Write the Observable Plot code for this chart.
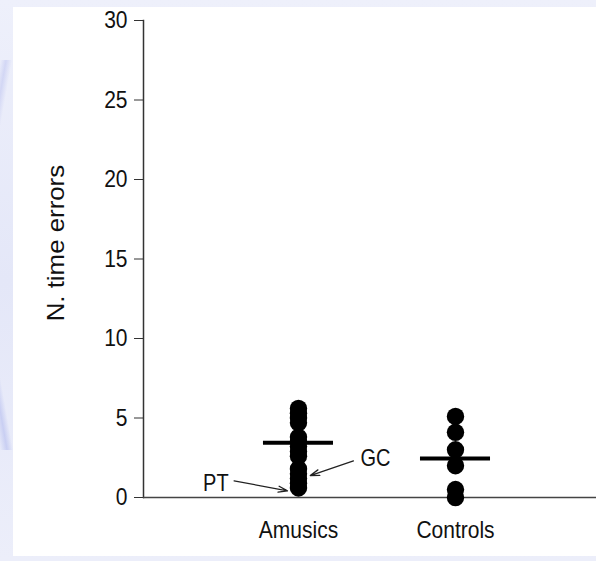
<!DOCTYPE html>
<html>
<head>
<meta charset="utf-8">
<script src="https://cdn.jsdelivr.net/npm/d3@7"></script>
<script src="https://cdn.jsdelivr.net/npm/@observablehq/plot@0.6"></script>
<style>
  html, body { margin: 0; padding: 0; }
  body {
    width: 596px; height: 561px; position: relative; overflow: hidden;
    background:
      linear-gradient(100deg, rgba(255,255,255,0) 0px, rgba(190,196,240,0.55) 6px, rgba(255,255,255,0) 12px) 0 60px / 14px 120px no-repeat,
      linear-gradient(80deg, rgba(255,255,255,0) 0px, rgba(180,188,238,0.6) 7px, rgba(255,255,255,0) 13px) 0 250px / 14px 200px no-repeat,
      linear-gradient(180deg, #eef0fb 0%, #e4e7f8 50%, #eceefa 100%);
  }
  #panel { position: absolute; left: 13px; top: 7px; width: 583px; height: 549px; background: #fff; }
  #panel svg { display: block; max-width: none; }
</style>
</head>
<body>
<div id="panel"></div>
<script>
// Categories (groups)
const categories = ["Amusics", "Controls"];
// Individual scores (N. time errors)
const amusicsValues = [5.6, 5.3, 5.0, 4.7, 3.8, 3.5, 3.2, 2.9, 2.6, 1.8, 1.5, 1.2, 0.9, 0.6];
const controlsValues = [5.1, 4.1, 3.0, 2.0, 0.5, 0.0];
// Group means (horizontal bars)
const groupMeans = [3.45, 2.45];
// Y ticks
const yTicks = [0, 5, 10, 15, 20, 25, 30];
// Axis title
const yTitle = "N. time errors";
// Annotations: labelled individuals with arrows (data units; x in category-index units)
const annotations = [
  {label: "PT", side: "left",  tx: -0.445, ty: 0.9,  x1: -0.41, y1: 1.05, x2: -0.07, y2: 0.42},
  {label: "GC", side: "right", tx: 0.395,  ty: 2.45, x1: 0.35,  y1: 2.3,  x2: 0.075, y2: 1.38}
];

const points = [
  ...amusicsValues.map(v => ({group: "Amusics", value: v})),
  ...controlsValues.map(v => ({group: "Controls", value: v}))
];
const means = categories.map((c, i) => ({group: c, mean: groupMeans[i]}));
const gi = g => categories.indexOf(g);
const meanHalf = 0.223; // half-length of mean bar, in category units

const font = "'Liberation Sans', Arial, Helvetica, sans-serif";

const chart = Plot.plot({
  width: 583,
  height: 549,
  marginLeft: 130,
  marginRight: 0,
  marginTop: 13,
  marginBottom: 59,
  style: {fontFamily: font, color: "#111", background: "#fff", overflow: "visible"},
  x: {type: "linear", domain: [-0.987, 1.898], axis: null},
  y: {domain: [0, 30], axis: null},
  marks: [
    Plot.axisY({ticks: yTicks, tickSize: 9, tickFormat: () => "", stroke: "#333", label: null}),
    Plot.text(yTicks, {y: d => d, text: d => String(d), frameAnchor: "left", textAnchor: "end", dx: -16, fontSize: 21, fill: "#111"}),
    Plot.axisX({ticks: [0, 1], tickFormat: i => categories[i], tickSize: 0, tickPadding: 24, fontSize: 21, label: null}),
    Plot.frame({anchor: "left", stroke: "#333", strokeWidth: 1.5}),
    Plot.ruleY([0], {stroke: "#444", strokeWidth: 1.5}),
    Plot.text([yTitle], {frameAnchor: "left", y: 16, dx: -80, rotate: -90, textAnchor: "middle", lineAnchor: "bottom", text: d => d, fontSize: 23.5, fill: "#111"}),
    Plot.dot(points, {x: d => gi(d.group), y: "value", r: 8.7, fill: "#000", stroke: "none"}),
    Plot.ruleY(means, {x1: d => gi(d.group) - meanHalf, x2: d => gi(d.group) + meanHalf, y: "mean", stroke: "#000", strokeWidth: 4}),
    Plot.arrow(annotations, {x1: "x1", y1: "y1", x2: "x2", y2: "y2", stroke: "#222", strokeWidth: 1.3, headLength: 11, headAngle: 36}),
    Plot.text(annotations, {filter: d => d.side === "left", x: "tx", y: "ty", text: "label", textAnchor: "end", fontSize: 20, fill: "#111"}),
    Plot.text(annotations, {filter: d => d.side === "right", x: "tx", y: "ty", text: "label", textAnchor: "start", fontSize: 20, fill: "#111"})
  ]
});
document.getElementById("panel").appendChild(chart);

// The source figure's lettering is slightly stretched vertically; reproduce that on every text element.
d3.select(chart).selectAll("text").each(function () {
  if (!this.textContent) return;
  const b = this.getBBox();
  const cx = b.x + b.width / 2, cy = b.y + b.height / 2;
  const t = this.getAttribute("transform") || "";
  const rot = /rotate/.test(t);
  const sx = rot ? 1.1 : 1, sy = rot ? 1 : 1.16;
  this.setAttribute("transform", `${t} translate(${cx},${cy}) scale(${sx},${sy}) translate(${-cx},${-cy})`);
});
</script>
</body>
</html>
